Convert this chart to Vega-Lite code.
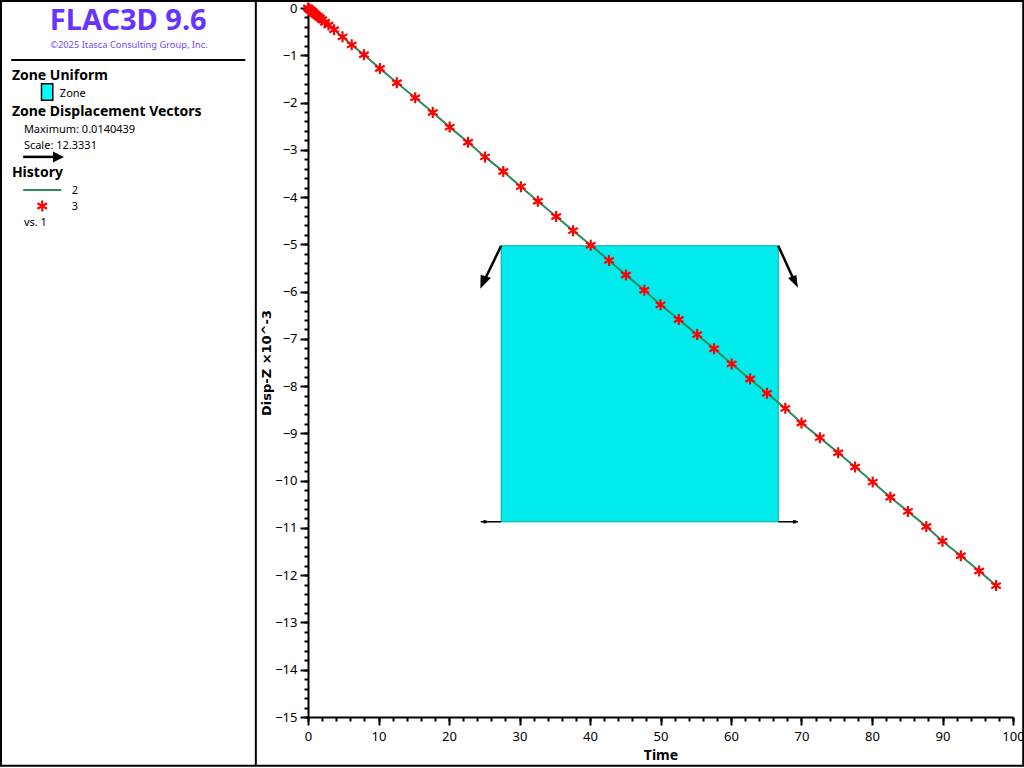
{
"$schema":"https://vega.github.io/schema/vega-lite/v6.json",
"width":705,"height":709,"autosize":{"type":"none"},
"padding":{"left":308,"top":8,"right":11,"bottom":51},
"background":"white",
"config":{"view":{"stroke":null},"font":"Noto Sans","text":{"font":"Noto Sans"}},
"datasets":{
"hist":[{"t":0,"d":0},{"t":0.1,"d":-0.01},{"t":0.2,"d":-0.03},{"t":0.3,"d":-0.04},{"t":0.4,"d":-0.05},{"t":0.5,"d":-0.06},{"t":0.65,"d":-0.08},{"t":0.8,"d":-0.1},{"t":1.0,"d":-0.13},{"t":1.2,"d":-0.15},{"t":1.45,"d":-0.18},{"t":1.7,"d":-0.21},{"t":2.0,"d":-0.25},{"t":2.4,"d":-0.3},{"t":2.9,"d":-0.36},{"t":3.7,"d":-0.46},{"t":4.9,"d":-0.61},{"t":6.2,"d":-0.78},{"t":7.94,"d":-0.99},{"t":10.2,"d":-1.28},{"t":12.6,"d":-1.58},{"t":15.2,"d":-1.9},{"t":17.7,"d":-2.21},{"t":20.1,"d":-2.52},{"t":22.7,"d":-2.84},{"t":25.1,"d":-3.15},{"t":27.7,"d":-3.46},{"t":30.2,"d":-3.78},{"t":32.6,"d":-4.09},{"t":35.2,"d":-4.41},{"t":37.6,"d":-4.71},{"t":40.1,"d":-5.02},{"t":42.7,"d":-5.34},{"t":45.1,"d":-5.65},{"t":47.7,"d":-5.97},{"t":50,"d":-6.28},{"t":52.6,"d":-6.59},{"t":55.2,"d":-6.91},{"t":57.6,"d":-7.21},{"t":60.1,"d":-7.53},{"t":62.7,"d":-7.85},{"t":65.1,"d":-8.15},{"t":67.7,"d":-8.47},{"t":70,"d":-8.78},{"t":72.6,"d":-9.09},{"t":75.2,"d":-9.41},{"t":77.6,"d":-9.71},{"t":80.1,"d":-10.03},{"t":82.6,"d":-10.35},{"t":85.1,"d":-10.65},{"t":87.7,"d":-10.97},{"t":90,"d":-11.28},{"t":92.6,"d":-11.59},{"t":95.2,"d":-11.91},{"t":97.6,"d":-12.22}],
"ticksX":[{"t":0,"d":-15}],
"shafts":[{"a":"nw","t":27.4,"d":-5.03},{"a":"nw","t":24.9,"d":-5.8},{"a":"ne","t":66.7,"d":-5.03},{"a":"ne","t":69.0,"d":-5.78},{"a":"key","t":-40.4,"d":-3.15},{"a":"key","t":-36,"d":-3.15}],
"thin":[{"a":"sw","t":27.4,"d":-10.87},{"a":"sw","t":24.5,"d":-10.87},{"a":"se","t":66.7,"d":-10.87},{"a":"se","t":69.5,"d":-10.87}],
"heading":[{"label":"Zone Uniform","t":-42,"d":-1.44},{"label":"Zone Displacement Vectors","t":-42,"d":-2.2},{"label":"History","t":-42,"d":-3.49}],
"body":[{"label":"Zone","t":-35.2,"d":-1.82},{"label":"Maximum: 0.0140439","t":-40.3,"d":-2.58},{"label":"Scale: 12.3331","t":-40.3,"d":-2.92},{"label":"2","t":-33.5,"d":-3.87},{"label":"3","t":-33.5,"d":-4.21},{"label":"vs. 1","t":-40.3,"d":-4.55}]
},
"layer":[
{"data":{"name":"ticksX"},"mark":{"type":"point","opacity":0},
 "encoding":{"x":{"field":"t","type":"quantitative","scale":{"domain":[0,100],"nice":false,"zero":false},
   "axis":{"orient":"bottom","values":[0,2,4,6,8,10,12,14,16,18,20,22,24,26,28,30,32,34,36,38,40,42,44,46,48,50,52,54,56,58,60,62,64,66,68,70,72,74,76,78,80,82,84,86,88,90,92,94,96,98,100],"labels":false,"domain":false,"grid":false,"tickSize":4,"tickColor":"black","tickWidth":2,"title":null}},
  "y":{"field":"d","type":"quantitative","scale":{"domain":[-15,0],"nice":false,"zero":false},
   "axis":{"orient":"left","values":[0,-0.2,-0.4,-0.6,-0.8,-1,-1.2,-1.4,-1.6,-1.8,-2,-2.2,-2.4,-2.6,-2.8,-3,-3.2,-3.4,-3.6,-3.8,-4,-4.2,-4.4,-4.6,-4.8,-5,-5.2,-5.4,-5.6,-5.8,-6,-6.2,-6.4,-6.6,-6.8,-7,-7.2,-7.4,-7.6,-7.8,-8,-8.2,-8.4,-8.6,-8.8,-9,-9.2,-9.4,-9.6,-9.8,-10,-10.2,-10.4,-10.6,-10.8,-11,-11.2,-11.4,-11.6,-11.8,-12,-12.2,-12.4,-12.6,-12.8,-13,-13.2,-13.4,-13.6,-13.8,-14,-14.2,-14.4,-14.6,-14.8,-15],"labels":false,"domain":false,"grid":false,"tickSize":4,"tickColor":"black","tickWidth":2,"title":null}}}},
{"data":{"name":"ticksX"},"mark":{"type":"point","opacity":0},
 "encoding":{"x":{"field":"t","type":"quantitative","scale":{"domain":[0,100],"nice":false,"zero":false},
   "axis":{"orient":"bottom","values":[0,10,20,30,40,50,60,70,80,90,100],"format":"d","grid":false,"domainColor":"black","domainWidth":2,"tickColor":"black","tickWidth":2,"tickSize":8,"labelFontSize":13,"labelColor":"black","labelPadding":5,"labelFont":"Noto Sans","labelOverlap":false,"labelFlush":false,"title":"Time","titleFontSize":14,"titleFont":"Noto Sans","titleFontWeight":"bold","titleColor":"black","titlePadding":5}},
  "y":{"field":"d","type":"quantitative","scale":{"domain":[-15,0],"nice":false,"zero":false},
   "axis":{"orient":"left","values":[0,-1,-2,-3,-4,-5,-6,-7,-8,-9,-10,-11,-12,-13,-14,-15],"format":"d","grid":false,"domainColor":"black","domainWidth":2,"tickColor":"black","tickWidth":2,"tickSize":8,"labelFontSize":13,"labelColor":"black","labelPadding":3,"labelFont":"Noto Sans","labelOverlap":false,"title":"Disp-Z ×10^-3","titleFontSize":13,"titleFont":"DejaVu Sans","titleFontWeight":"bold","titleColor":"black","titlePadding":1}}}},
{"data":{"values":[{"t":27.4,"t2":66.7,"d":-5.03,"d2":-10.87}]},"mark":{"type":"rect","fill":"#00EBEB","stroke":"#00A8A8","strokeWidth":1},
 "encoding":{"x":{"field":"t","type":"quantitative","axis":null},"x2":{"field":"t2"},"y":{"field":"d","type":"quantitative","axis":null},"y2":{"field":"d2"}}},
{"data":{"name":"shafts"},"mark":{"type":"line","color":"black","strokeWidth":2.5,"clip":false},
 "encoding":{"x":{"field":"t","type":"quantitative","axis":null},"y":{"field":"d","type":"quantitative","axis":null},"detail":{"field":"a"},"order":{"field":"t"}}},
{"data":{"name":"thin"},"mark":{"type":"line","color":"black","strokeWidth":1.5,"clip":false},
 "encoding":{"x":{"field":"t","type":"quantitative","axis":null},"y":{"field":"d","type":"quantitative","axis":null},"detail":{"field":"a"},"order":{"field":"t"}}},
{"data":{"values":[{"t":24.44,"d":-5.94}]},"mark":{"type":"point","shape":"M0,0L0.03,-1L0.76,-0.79Z","size":784,"filled":true,"color":"black","opacity":1,"clip":false},
 "encoding":{"x":{"field":"t","type":"quantitative","axis":null},"y":{"field":"d","type":"quantitative","axis":null}}},
{"data":{"values":[{"t":69.5,"d":-5.92}]},"mark":{"type":"point","shape":"M0,0L-0.71,-0.71L-0.12,-0.91Z","size":784,"filled":true,"color":"black","opacity":1,"clip":false},
 "encoding":{"x":{"field":"t","type":"quantitative","axis":null},"y":{"field":"d","type":"quantitative","axis":null}}},
{"data":{"values":[{"t":25.1,"d":-10.87},{"t":69,"d":-10.87}]},"mark":{"type":"point","shape":"square","size":10,"filled":true,"color":"black","opacity":1,"clip":false},
 "encoding":{"x":{"field":"t","type":"quantitative","axis":null},"y":{"field":"d","type":"quantitative","axis":null}}},
{"data":{"name":"hist"},"mark":{"type":"line","color":"#2E8B57","strokeWidth":2,"clip":false},
 "encoding":{"x":{"field":"t","type":"quantitative","axis":null},"y":{"field":"d","type":"quantitative","axis":null}}},
{"data":{"name":"hist"},"mark":{"type":"point","shape":"M0,-1L0,1M-0.87,-0.5L0.87,0.5M-0.87,0.5L0.87,-0.5","size":121,"filled":false,"color":"red","strokeWidth":2.2,"opacity":1,"clip":false},
 "encoding":{"x":{"field":"t","type":"quantitative","axis":null},"y":{"field":"d","type":"quantitative","axis":null}}},
{"data":{"values":[{"t":-37.8,"t2":-36.2,"d":-1.6,"d2":-1.95}]},"mark":{"type":"rect","fill":"#00FFFF","stroke":"black","strokeWidth":1.5,"clip":false},
 "encoding":{"x":{"field":"t","type":"quantitative","axis":null},"x2":{"field":"t2"},"y":{"field":"d","type":"quantitative","axis":null},"y2":{"field":"d2"}}},
{"data":{"values":[{"t":-35.4,"d":-3.15}]},"mark":{"type":"point","shape":"M1,0L-1,-1L-1,1Z","size":121,"filled":true,"color":"black","opacity":1,"clip":false},
 "encoding":{"x":{"field":"t","type":"quantitative","axis":null},"y":{"field":"d","type":"quantitative","axis":null}}},
{"data":{"values":[{"t":-40.4,"d":-3.85},{"t":-35,"d":-3.85}]},"mark":{"type":"line","color":"#2E8B57","strokeWidth":2,"clip":false},
 "encoding":{"x":{"field":"t","type":"quantitative","axis":null},"y":{"field":"d","type":"quantitative","axis":null}}},
{"data":{"values":[{"t":-37.7,"d":-4.19}]},"mark":{"type":"point","shape":"M0,-1L0,1M-0.87,-0.5L0.87,0.5M-0.87,0.5L0.87,-0.5","size":121,"filled":false,"color":"red","strokeWidth":2.2,"opacity":1,"clip":false},
 "encoding":{"x":{"field":"t","type":"quantitative","axis":null},"y":{"field":"d","type":"quantitative","axis":null}}},
{"data":{"values":[{"label":"FLAC3D 9.6","t":-25.5,"d":-0.27}]},"mark":{"type":"text","fontSize":29,"fontWeight":"bold","color":"#6633FF","align":"center","baseline":"middle","clip":false},
 "encoding":{"x":{"field":"t","type":"quantitative","axis":null},"y":{"field":"d","type":"quantitative","axis":null},"text":{"field":"label"}}},
{"data":{"values":[{"label":"©2025 Itasca Consulting Group, Inc.","t":-25.4,"d":-0.78}]},"mark":{"type":"text","fontSize":9.3,"color":"#7744FF","align":"center","baseline":"middle","clip":false},
 "encoding":{"x":{"field":"t","type":"quantitative","axis":null},"y":{"field":"d","type":"quantitative","axis":null},"text":{"field":"label"}}},
{"data":{"values":[{"t":-42.1,"d":-1.1},{"t":-8.9,"d":-1.1}]},"mark":{"type":"line","color":"black","strokeWidth":2,"clip":false},
 "encoding":{"x":{"field":"t","type":"quantitative","axis":null},"y":{"field":"d","type":"quantitative","axis":null}}},
{"data":{"name":"heading"},"mark":{"type":"text","fontSize":14,"fontWeight":"bold","color":"black","align":"left","baseline":"middle","clip":false},
 "encoding":{"x":{"field":"t","type":"quantitative","axis":null},"y":{"field":"d","type":"quantitative","axis":null},"text":{"field":"label"}}},
{"data":{"name":"body"},"mark":{"type":"text","fontSize":11,"color":"black","align":"left","baseline":"middle","clip":false},
 "encoding":{"x":{"field":"t","type":"quantitative","axis":null},"y":{"field":"d","type":"quantitative","axis":null},"text":{"field":"label"}}},
{"data":{"values":[{"t":-43.55,"t2":101.45,"d":0.148,"d2":-16.03}]},"mark":{"type":"rect","filled":false,"stroke":"black","strokeWidth":2,"clip":false},
 "encoding":{"x":{"field":"t","type":"quantitative","axis":null},"x2":{"field":"t2"},"y":{"field":"d","type":"quantitative","axis":null},"y2":{"field":"d2"}}},
{"data":{"values":[{"t":-7.4,"d":0.148},{"t":-7.4,"d":-16.03}]},"mark":{"type":"line","color":"black","strokeWidth":2,"clip":false},
 "encoding":{"x":{"field":"t","type":"quantitative","axis":null},"y":{"field":"d","type":"quantitative","axis":null},"order":{"field":"d"}}}
],
"resolve":{"axis":{"x":"independent","y":"independent"}}
}
